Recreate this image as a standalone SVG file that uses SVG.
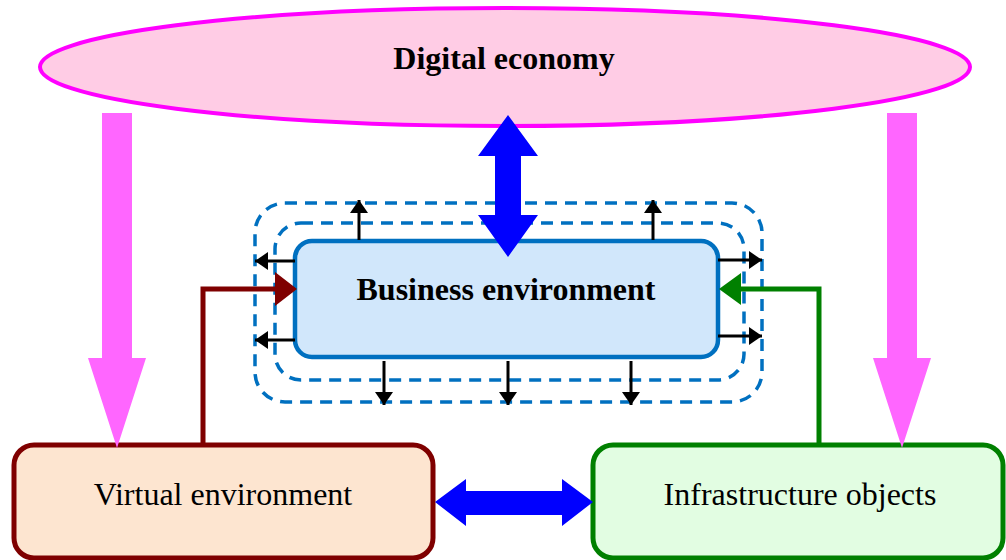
<svg xmlns="http://www.w3.org/2000/svg" width="1006" height="560" viewBox="0 0 1006 560">
<style>
.lbl{font-family:"Liberation Serif","Times New Roman",serif;font-size:32px;fill:#000;text-anchor:middle}
.b{font-weight:bold}
.dash{fill:none;stroke:#0070C0;stroke-width:3.5;stroke-dasharray:12 8}
.blk{stroke:#000;stroke-width:3;fill:none}
.pink{fill:#FF66FF}
.blue{fill:#0000FF}
</style>
<defs>
<marker id="ah" viewBox="0 0 13 18" refX="13" refY="9" markerWidth="13" markerHeight="18" markerUnits="userSpaceOnUse" orient="auto">
<path d="M0,0 L13,9 L0,18 Z" fill="#000"/>
</marker>
</defs>
<rect width="1006" height="560" fill="#fff"/>
<g id="digital-economy">
<ellipse cx="505" cy="67" rx="465" ry="59" fill="#FFCCE5" stroke="#FF00FF" stroke-width="4"/>
<text class="lbl b" x="504" y="69">Digital economy</text>
</g>
<g id="business-environment">
<rect class="dash" x="255" y="203" width="507" height="199" rx="30"/>
<rect class="dash" x="275" y="223" width="469" height="157" rx="26"/>
<rect x="295" y="241" width="423" height="116" rx="17" fill="#D1E7FB" stroke="#0070C0" stroke-width="4.5"/>
<text class="lbl b" x="506" y="300">Business environment</text>
</g>
<g id="virtual-environment">
<rect x="14" y="445" width="419" height="113" rx="20" fill="#FDE5D0" stroke="#7F0000" stroke-width="5"/>
<text class="lbl" x="223" y="505">Virtual environment</text>
</g>
<g id="infrastructure-objects">
<rect x="593" y="445" width="410" height="113" rx="20" fill="#E2FDE2" stroke="#008000" stroke-width="5"/>
<text class="lbl" x="800" y="505">Infrastructure objects</text>
</g>
<g id="connectors">
<polygon class="pink" points="102,113 132,113 132,358 146,358 117,448 88,358 102,358"/>
<polygon class="pink" points="887,113 917,113 917,358 931,358 902,448 873,358 887,358"/>
<polygon class="blue" points="508,115 538,156 521,156 521,215 538,215 508,257 478,215 495,215 495,156 478,156"/>
<polygon class="blue" points="435,502 466,479 466,491 562,491 562,479 593,502 562,526 562,515 466,515 466,526"/>
<polyline points="203,445 203,289 276,289" fill="none" stroke="#7F0000" stroke-width="5"/>
<polygon points="275,272 297,289 275,306" fill="#7F0000"/>
<polyline points="819,445 819,289 740,289" fill="none" stroke="#008000" stroke-width="5"/>
<polygon points="741,273 719,289 741,305" fill="#008000"/>
<line class="blk" x1="359" y1="240" x2="359" y2="200" marker-end="url(#ah)"/>
<line class="blk" x1="653" y1="240" x2="653" y2="200" marker-end="url(#ah)"/>
<line class="blk" x1="295" y1="261" x2="255" y2="261" marker-end="url(#ah)"/>
<line class="blk" x1="295" y1="340" x2="255" y2="340" marker-end="url(#ah)"/>
<line class="blk" x1="718" y1="260" x2="762" y2="260" marker-end="url(#ah)"/>
<line class="blk" x1="718" y1="336" x2="762" y2="336" marker-end="url(#ah)"/>
<line class="blk" x1="384" y1="361" x2="384" y2="405" marker-end="url(#ah)"/>
<line class="blk" x1="508" y1="361" x2="508" y2="405" marker-end="url(#ah)"/>
<line class="blk" x1="631" y1="361" x2="631" y2="405" marker-end="url(#ah)"/>
</g>
</svg>
